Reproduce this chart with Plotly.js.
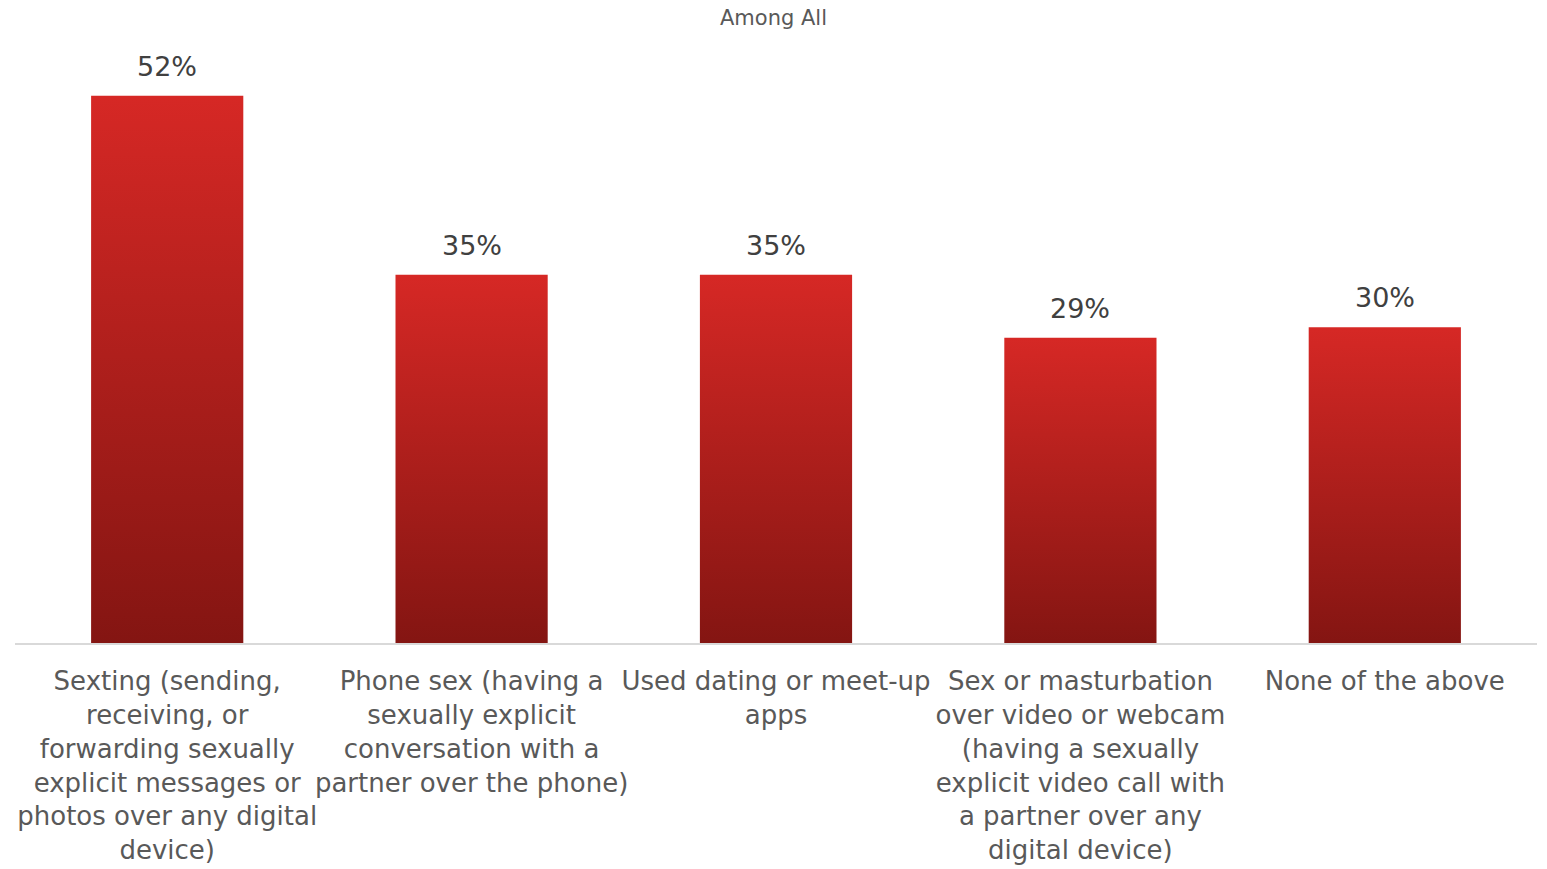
<!DOCTYPE html>
<html>
<head>
<meta charset="utf-8">
<script src="https://cdn.plot.ly/plotly-3.0.1.min.js"></script>
<style>html,body{margin:0;padding:0;background:#fff;}#chart{width:1547px;height:869px;}</style>
</head>
<body>
<div id="chart"></div>
<script>
const categories = [
  "Sexting (sending,<br>receiving, or<br>forwarding sexually<br>explicit messages or<br>photos over any digital<br>device)",
  "Phone sex (having a<br>sexually explicit<br>conversation with a<br>partner over the phone)",
  "Used dating or meet-up<br>apps",
  "Sex or masturbation<br>over video or webcam<br>(having a sexually<br>explicit video call with<br>a partner over any<br>digital device)",
  "None of the above"
];
const values = [52, 35, 35, 29, 30];
const chartTitle = "Among All";

const trace = {
  type: 'bar',
  x: categories,
  y: values,
  marker: {color: '#B01E1B', line: {width: 0}},
  hoverinfo: 'none'
};

const annotations = categories.map((c, i) => ({
  x: c, y: values[i], xref: 'x', yref: 'y',
  text: values[i] + '%', showarrow: false,
  yanchor: 'bottom', yshift: 12,
  font: {family: 'DejaVu Sans', size: 27, color: '#404040'}
}));

const layout = {
  width: 1547, height: 869,
  margin: {l: 15, r: 10, t: 40, b: 226},
  paper_bgcolor: '#fff', plot_bgcolor: '#fff',
  title: {text: chartTitle, font: {family: 'DejaVu Sans', size: 21, color: '#595959'}, x: 0.5, xanchor: 'center', y: 0.98, yanchor: 'middle'},
  bargap: 0.5,
  showlegend: false,
  annotations: annotations,
  xaxis: {
    showline: true, linecolor: '#D9D9D9', linewidth: 2,
    ticks: '', showgrid: false, zeroline: false,
    tickfont: {family: 'DejaVu Sans', size: 26, color: '#595959'},
    ticklabelstandoff: 14,
    tickangle: 0, automargin: false
  },
  yaxis: {range: [0, 57.3], visible: false, showgrid: false, zeroline: false, fixedrange: true}
};

function applyGradient(gd) {
  const svg = gd.querySelector('svg.main-svg');
  if (!svg) return;
  let defs = svg.querySelector('defs');
  if (!defs) { defs = document.createElementNS('http://www.w3.org/2000/svg', 'defs'); svg.insertBefore(defs, svg.firstChild); }
  if (!svg.querySelector('#barGrad')) {
    const g = document.createElementNS('http://www.w3.org/2000/svg', 'linearGradient');
    g.setAttribute('id', 'barGrad');
    g.setAttribute('x1', '0'); g.setAttribute('y1', '0'); g.setAttribute('x2', '0'); g.setAttribute('y2', '1');
    const s1 = document.createElementNS('http://www.w3.org/2000/svg', 'stop');
    s1.setAttribute('offset', '0'); s1.setAttribute('stop-color', '#D62825');
    const s2 = document.createElementNS('http://www.w3.org/2000/svg', 'stop');
    s2.setAttribute('offset', '1'); s2.setAttribute('stop-color', '#841512');
    g.appendChild(s1); g.appendChild(s2); defs.appendChild(g);
  }
  gd.querySelectorAll('.barlayer .point path').forEach(p => { p.style.fill = 'url(#barGrad)'; });
}

Plotly.newPlot('chart', [trace], layout, {staticPlot: true, displayModeBar: false}).then(gd => {
  applyGradient(gd);
  gd.on('plotly_afterplot', () => applyGradient(gd));
});
</script>
</body>
</html>
